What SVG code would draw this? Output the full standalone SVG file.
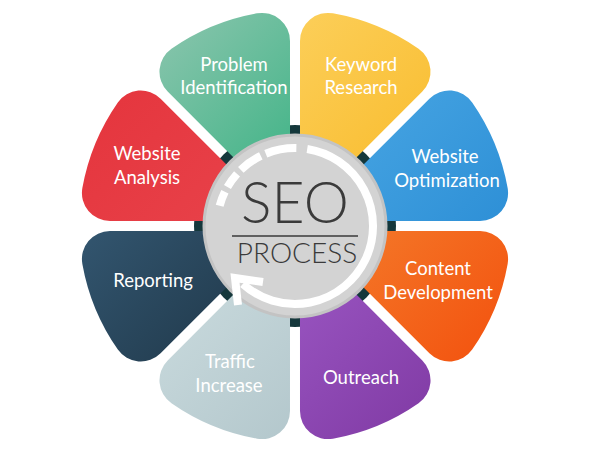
<svg xmlns="http://www.w3.org/2000/svg" width="600" height="450" viewBox="0 0 600 450">
<style>
.lbl{font-family:Lato,"Open Sans","Liberation Sans",sans-serif;font-size:18.5px;fill:#ffffff;text-anchor:middle}
.ctr{font-family:Lato,"Open Sans","Liberation Sans",sans-serif;fill:#3a3a3a;text-anchor:middle}
.arc{fill:none;stroke:#ffffff;stroke-width:8}
</style>
<defs>
<path id="petal" d="M0 -13 L66.2 -172.9 A28 28 0 0 0 46.35 -210.97 A216 216 0 0 0 -46.35 -210.97 A28 28 0 0 0 -66.2 -172.9 Z"/>
<linearGradient id="gGreen" gradientUnits="userSpaceOnUse" gradientTransform="rotate(22.5)" x1="-123.6" y1="-199.3" x2="16.4" y2="-59.3"><stop offset="0" stop-color="#86c4ab"/><stop offset="1" stop-color="#3db385"/></linearGradient>
<linearGradient id="gYellow" gradientUnits="userSpaceOnUse" gradientTransform="rotate(-22.5)" x1="-16.4" y1="-199.3" x2="123.6" y2="-59.3"><stop offset="0" stop-color="#fccf5a"/><stop offset="1" stop-color="#f9bd30"/></linearGradient>
<linearGradient id="gBlue" gradientUnits="userSpaceOnUse" gradientTransform="rotate(-67.5)" x1="59.3" y1="-123.6" x2="199.3" y2="16.4"><stop offset="0" stop-color="#46a4e2"/><stop offset="1" stop-color="#2d8fd6"/></linearGradient>
<linearGradient id="gOrange" gradientUnits="userSpaceOnUse" gradientTransform="rotate(-112.5)" x1="59.3" y1="-16.4" x2="199.3" y2="123.6"><stop offset="0" stop-color="#f47a2a"/><stop offset="1" stop-color="#f35410"/></linearGradient>
<linearGradient id="gPurple" gradientUnits="userSpaceOnUse" gradientTransform="rotate(-157.5)" x1="-16.4" y1="59.3" x2="123.6" y2="199.3"><stop offset="0" stop-color="#9a56c2"/><stop offset="1" stop-color="#823ca6"/></linearGradient>
<linearGradient id="gGrey" gradientUnits="userSpaceOnUse" gradientTransform="rotate(-202.5)" x1="-123.6" y1="59.3" x2="16.4" y2="199.3"><stop offset="0" stop-color="#c9dadd"/><stop offset="1" stop-color="#b3c7cc"/></linearGradient>
<linearGradient id="gNavy" gradientUnits="userSpaceOnUse" gradientTransform="rotate(-247.5)" x1="-199.3" y1="-16.4" x2="-59.3" y2="123.6"><stop offset="0" stop-color="#335670"/><stop offset="1" stop-color="#213a4c"/></linearGradient>
<linearGradient id="gRed" gradientUnits="userSpaceOnUse" gradientTransform="rotate(-292.5)" x1="-199.3" y1="-123.6" x2="-59.3" y2="16.4"><stop offset="0" stop-color="#e5363e"/><stop offset="1" stop-color="#e8424a"/></linearGradient>
</defs>

<circle cx="295" cy="226" r="101" fill="#15383c"/>

<g id="problem-identification">
<use href="#petal" transform="translate(295 226) rotate(-22.5)" fill="url(#gGreen)"/>
<text class="lbl" x="234" y="71">Problem</text>
<text class="lbl" x="234" y="94">Identification</text>
</g>
<g id="keyword-research">
<use href="#petal" transform="translate(295 226) rotate(22.5)" fill="url(#gYellow)"/>
<text class="lbl" x="361" y="71">Keyword</text>
<text class="lbl" x="361" y="94">Research</text>
</g>
<g id="website-optimization">
<use href="#petal" transform="translate(295 226) rotate(67.5)" fill="url(#gBlue)"/>
<text class="lbl" x="445" y="163">Website</text>
<text class="lbl" x="447" y="187">Optimization</text>
</g>
<g id="content-development">
<use href="#petal" transform="translate(295 226) rotate(112.5)" fill="url(#gOrange)"/>
<text class="lbl" x="438" y="275">Content</text>
<text class="lbl" x="438" y="299">Development</text>
</g>
<g id="outreach">
<use href="#petal" transform="translate(295 226) rotate(157.5)" fill="url(#gPurple)"/>
<text class="lbl" x="361" y="384">Outreach</text>
</g>
<g id="traffic-increase">
<use href="#petal" transform="translate(295 226) rotate(202.5)" fill="url(#gGrey)"/>
<text class="lbl" x="230" y="368">Traffic</text>
<text class="lbl" x="229" y="392">Increase</text>
</g>
<g id="reporting">
<use href="#petal" transform="translate(295 226) rotate(247.5)" fill="url(#gNavy)"/>
<text class="lbl" x="153" y="287">Reporting</text>
</g>
<g id="website-analysis">
<use href="#petal" transform="translate(295 226) rotate(292.5)" fill="url(#gRed)"/>
<text class="lbl" x="147" y="160">Website</text>
<text class="lbl" x="147" y="184">Analysis</text>
</g>

<g id="seo-process">
<circle cx="295" cy="226" r="91" fill="#d3d3d3" stroke="#c3c3c3" stroke-width="3"/>
<path class="arc" d="M307.2 148.96 A78 78 0 1 1 242.81 283.96"/>
<path class="arc" d="M263 282 L235 278 L238 305" stroke-linejoin="miter"/>
<path class="arc" d="M265.78 153.68 A78 78 0 0 1 296.36 148.01"/>
<path class="arc" d="M240.81 169.89 A78 78 0 0 1 260.81 155.89"/>
<path class="arc" d="M227.45 187.0 A78 78 0 0 1 237.04 173.81"/>
<path class="arc" d="M219.66 205.81 A78 78 0 0 1 224.89 191.80"/>
<text class="ctr" x="295" y="223" font-size="57" font-weight="300">SEO</text>
<line x1="232" y1="236" x2="358" y2="236" stroke="#3a3a3a" stroke-width="1.6"/>
<text class="ctr" x="297" y="263" font-size="28" font-weight="300">PROCESS</text>
</g>
<g id="connectors"/>
</svg>
